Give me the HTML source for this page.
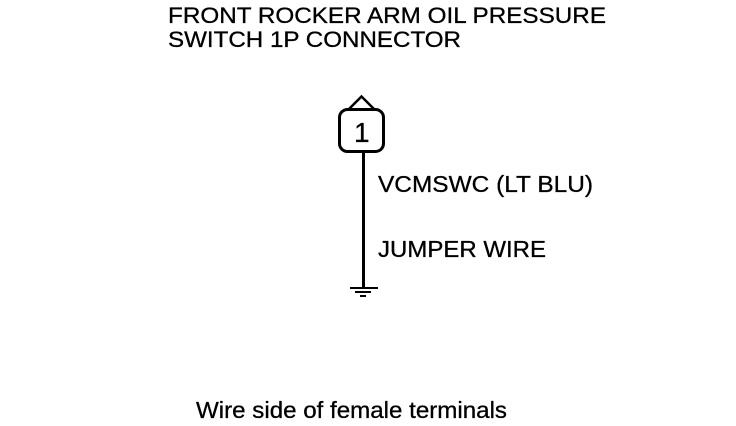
<!DOCTYPE html>
<html>
<head>
<meta charset="utf-8">
<style>
html,body{margin:0;padding:0;background:#fff;}
svg{display:block;}
text{font-family:"Liberation Sans",sans-serif;font-size:23px;fill:#000;stroke:#000;stroke-width:.3px;}
</style>
</head>
<body>
<svg width="736" height="426" viewBox="0 0 736 426" xmlns="http://www.w3.org/2000/svg">
<rect width="736" height="426" fill="#fff"/>
<text x="168" y="23" style="font-size:22px" textLength="438" lengthAdjust="spacingAndGlyphs">FRONT ROCKER ARM OIL PRESSURE</text>
<text x="168" y="47" style="font-size:22px" textLength="293" lengthAdjust="spacingAndGlyphs">SWITCH 1P CONNECTOR</text>
<path d="M349 109 L361.500 96.500 L374 109" fill="none" stroke="#000" stroke-width="2.500"/>
<rect x="339.500" y="109.500" width="44" height="42" rx="8" ry="8" fill="#fff" stroke="#000" stroke-width="3"/>
<text x="354" y="142" style="font-size:28px">1</text>
<line x1="363.500" y1="152" x2="363.500" y2="288" stroke="#000" stroke-width="3"/>
<rect x="350" y="287" width="28" height="2" fill="#000"/>
<rect x="355" y="291" width="16" height="2" fill="#000"/>
<rect x="360" y="295" width="6" height="2" fill="#000"/>
<text x="378" y="192" textLength="215" lengthAdjust="spacingAndGlyphs">VCMSWC (LT BLU)</text>
<text x="378" y="257" textLength="168" lengthAdjust="spacingAndGlyphs">JUMPER WIRE</text>
<text x="196" y="418" textLength="311" lengthAdjust="spacingAndGlyphs">Wire side of female terminals</text>
</svg>
</body>
</html>
